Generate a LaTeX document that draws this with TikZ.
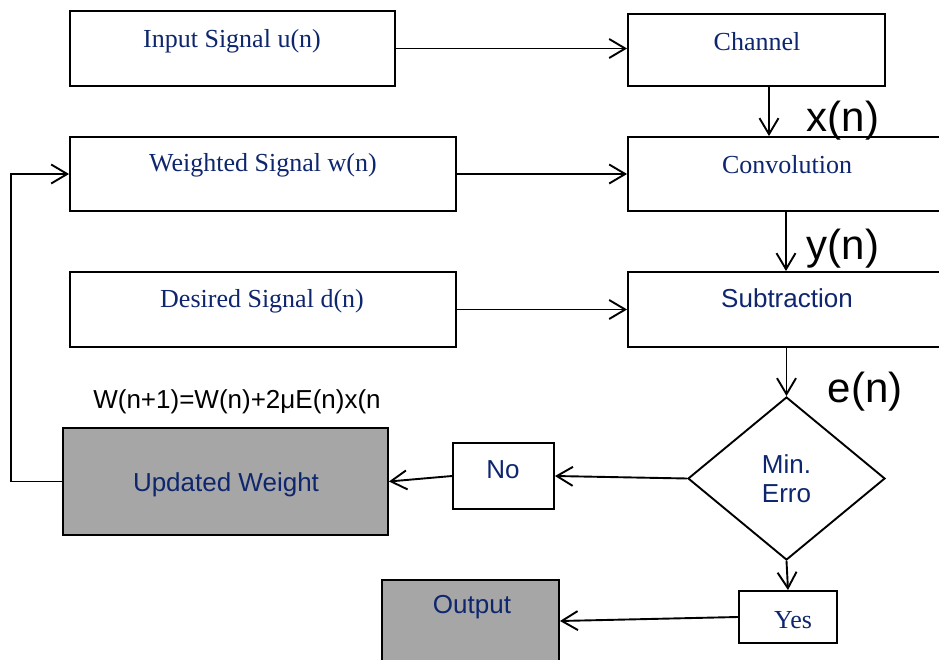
\documentclass[tikz,border=0pt]{standalone}
\usepackage{fontspec}
\setmainfont{Liberation Serif}
\setsansfont{Liberation Sans}
\usetikzlibrary{shapes.geometric,arrows.meta,calc}
\definecolor{navy}{RGB}{14,38,110}
\definecolor{boxgray}{RGB}{166,166,166}
\tikzset{
  box/.style={draw=black, line width=1.9pt, fill=white, inner sep=0pt},
  graybox/.style={box, fill=boxgray},
  serifTxt/.style={font=\fontsize{26}{30}\selectfont\rmfamily, text=navy, inner sep=0pt},
  sansTxt/.style={font=\fontsize{26}{30}\selectfont\sffamily, text=navy, inner sep=0pt},
  bigLbl/.style={font=\fontsize{42}{46}\selectfont\sffamily, text=black, inner sep=0pt},
  conn/.style={draw=black, line width=1.9pt, -{Straight Barb[length=16pt,width=19pt,line width=1.9pt]}},
  plain/.style={draw=black, line width=1.9pt}
}
\begin{document}
\begin{tikzpicture}[x=1pt,y=1pt]
\useasboundingbox (0,0) rectangle (939,-660);
\clip (0,0) rectangle (939,-660);
\fill[white] (0,0) rectangle (939,-660);
% boxes
\node[box, minimum width=325pt, minimum height=75pt] (inp) at (232.5,-48.5) {};
\node[box, minimum width=257pt, minimum height=72pt] (chan) at (756.5,-50) {};
\node[box, minimum width=386pt, minimum height=74pt] (wsig) at (263,-174) {};
\node[box, minimum width=318pt, minimum height=74pt] (conv) at (787,-174) {};
\node[box, minimum width=386pt, minimum height=75pt] (des) at (263,-309.5) {};
\node[box, minimum width=318pt, minimum height=75pt] (sub) at (787,-309.5) {};
\node[box, diamond, minimum width=197pt, minimum height=163pt, align=center,
      font=\fontsize{26}{30}\selectfont\sffamily, text=navy] (dia) at (786.5,-478.5) {Min.\\[-1pt]Erro};
\node[box, minimum width=101pt, minimum height=66pt] (no) at (503.5,-476) {};
\node[graybox, minimum width=325pt, minimum height=107pt] (upd) at (225.5,-481.5) {};
\node[box, minimum width=98pt, minimum height=52pt] (yes) at (788,-617) {};
\node[graybox, minimum width=177pt, minimum height=90pt] (out) at (470.5,-625) {};
% texts
\node[serifTxt] (tinp) at (232,-41) {Input Signal u(n)};
\node[serifTxt] (tchan) at (757,-42) {Channel};
\node[serifTxt] (twsig) at (263,-165) {Weighted Signal w(n)};
\node[serifTxt] (tconv) at (787,-165) {Convolution};
\node[serifTxt] (tdes) at (262,-301) {Desired Signal d(n)};
\node[sansTxt] (tsub) at (787,-298) {Subtraction};
\node[sansTxt] (tno) at (503,-470) {No};
\node[sansTxt] (tupd) at (226,-485) {Updated Weight};
\node[serifTxt] (tyes) at (793,-620) {Yes};
\node[sansTxt] (tout) at (472,-607) {Output};
\node[font=\fontsize{26}{30}\selectfont\sffamily, inner sep=0pt] (form) at (237,-402) {W(n+1)=W(n)+2μE(n)x(n};
\node[bigLbl] (lx) at (843,-121) {x(n)};
\node[bigLbl] (ly) at (843,-249) {y(n)};
\node[bigLbl] (le) at (865,-392) {e(n)};
% helper coordinates
\coordinate (cx) at ($(chan.south)+(12.5,0)$);
\coordinate (oin) at ($(out.east)+(0,4)$);
% connectors
\draw[conn] (inp.east) -- (inp.east -| chan.west);
\draw[conn] (cx) -- (cx |- conv.north);
\draw[conn] (wsig.east) -- (conv.west);
\draw[conn] ($(conv.south)+(-1,0)$) -- ($(sub.north)+(-1,0)$);
\draw[conn] (des.east) -- (sub.west);
\draw[conn] ($(sub.south)+(-0.5,0)$) -- (dia.north);
\draw[conn] (dia.west) -- (no.east);
\draw[conn] (no.west) -- (upd.east);
\draw[conn] (upd.west) -- ++(-51,0) |- (wsig.west);
\draw[conn] (dia.south) -- (yes.north);
\draw[conn] (yes.west) -- (oin);
\end{tikzpicture}
\end{document}
